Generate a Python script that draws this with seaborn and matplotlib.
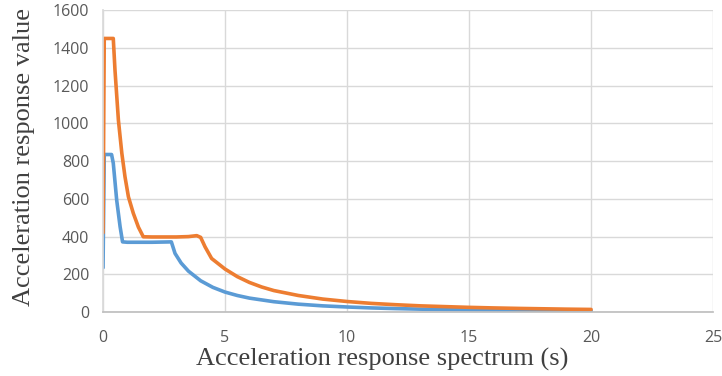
import matplotlib
matplotlib.use("Agg")
import matplotlib.pyplot as plt
import seaborn as sns
import pandas as pd

# Orange series (upper curve)
orange_x = [0, 0.05, 0.42, 0.49, 0.63, 0.77, 0.9, 1.04, 1.24, 1.45, 1.65, 2.0, 3.0, 3.5, 3.84, 4.0, 4.18, 4.45,
            5.0, 5.5, 6.0, 6.5, 7.0, 8.0, 9.0, 10, 11, 12, 13, 14, 15, 16, 17, 18, 19, 20]
orange_y = [420, 1450, 1450, 1282, 1017, 842, 717, 611, 524, 450, 399, 398, 398, 400, 405, 396, 346, 284,
            228, 188, 157, 133, 114, 88, 69, 56, 46, 39, 33, 29, 25, 22, 19.5, 17.5, 15.5, 14]

# Blue series (lower curve)
blue_x = [0, 0.05, 0.35, 0.42, 0.56, 0.7, 0.8, 1.0, 2.0, 2.8, 2.95, 3.2, 3.5, 4.0, 4.5, 5.0, 5.5, 6.0, 7.0,
          8.0, 9.0, 10, 11, 12, 13, 14, 15, 16, 17, 18, 19, 20]
blue_y = [235, 835, 835, 789, 593, 452, 372, 370, 370, 372, 311, 260, 217, 166, 131, 106, 88, 74, 55,
          42, 33, 27, 22, 18.5, 15.5, 13.5, 12, 10.5, 9.2, 8.2, 7.3, 6.6]

x_ticks = [0, 5, 10, 15, 20, 25]
y_ticks = [0, 200, 400, 600, 800, 1000, 1200, 1400, 1600]

sns.set_theme(style="white")

fig = plt.figure(figsize=(7.22, 3.76), dpi=100)
ax = fig.add_axes([0.1427, 0.170, 0.845, 0.803])

df_b = pd.DataFrame({"x": blue_x, "y": blue_y})
df_o = pd.DataFrame({"x": orange_x, "y": orange_y})
sns.lineplot(data=df_b, x="x", y="y", ax=ax, color="#5B9BD5", linewidth=2.6, sort=False,
             solid_joinstyle="round", solid_capstyle="round")
sns.lineplot(data=df_o, x="x", y="y", ax=ax, color="#ED7D31", linewidth=2.6, sort=False,
             solid_joinstyle="round", solid_capstyle="round")

ax.set_xlim(0, 25)
ax.set_ylim(0, 1600)
ax.set_xticks(x_ticks)
ax.set_yticks(y_ticks)
ax.grid(True, color="#D9D9D9", linewidth=1)
ax.set_axisbelow(True)
for s in ax.spines.values():
    s.set_visible(False)
ax.spines["left"].set_visible(True)
ax.spines["bottom"].set_visible(True)
ax.spines["left"].set_color("#D9D9D9")
ax.spines["bottom"].set_color("#BFBFBF")

ax.tick_params(axis="x", length=0, labelsize=11.5, labelcolor="#595959", pad=13)
ax.tick_params(axis="y", length=0, labelsize=11.5, labelcolor="#595959", pad=10)
for lab in ax.get_xticklabels() + ax.get_yticklabels():
    lab.set_family(["Open Sans", "DejaVu Sans"])

ax.set_xlabel("Acceleration response spectrum (s)", family="Liberation Serif", fontsize=19,
              color="#404040")
ax.set_ylabel("Acceleration response value", family="Liberation Serif", fontsize=19,
              color="#404040")
ax.xaxis.set_label_coords(0.457, -0.118)
ax.yaxis.set_label_coords(-0.112, 0.513)

fig.savefig("out.png", dpi=100)
